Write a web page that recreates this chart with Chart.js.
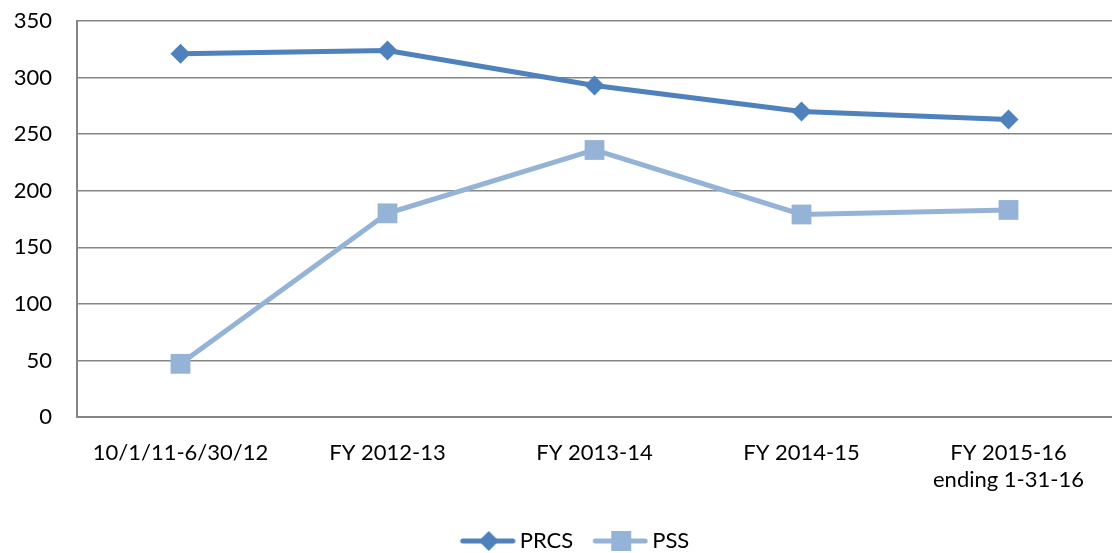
<!DOCTYPE html>
<html>
<head>
<meta charset="utf-8">
<script src="https://cdn.jsdelivr.net/npm/chart.js@4/dist/chart.umd.min.js"></script>
<style>
html,body{margin:0;padding:0;background:#fff;overflow:hidden;}
#wrap{width:1112px;height:553px;position:relative;}
#grafico{display:block;}
</style>
</head>
<body>
<div id="wrap"><canvas id="grafico"></canvas></div>
<script>
const categorias = [
  "10/1/11-6/30/12",
  "FY 2012-13",
  "FY 2013-14",
  "FY 2014-15",
  ["FY 2015-16", "ending 1-31-16"]
];
const prcs = [321, 324, 293, 270, 263];
const pss = [47, 180, 236, 179, 183];
const ticksY = [0, 50, 100, 150, 200, 250, 300, 350];

const azul = "#4F81BD";
const celeste = "#95B3D7";
const fuente = "Lato, 'Open Sans', sans-serif";

// icono de leyenda: linea con marcador (desplazado a la derecha para acercarlo al texto)
function icono(color, forma){
  const c = document.createElement("canvas");
  c.width = 70; c.height = 22;
  const g = c.getContext("2d");
  g.strokeStyle = color; g.lineWidth = 5; g.lineCap = "round";
  g.beginPath(); g.moveTo(17, 11); g.lineTo(67, 11); g.stroke();
  g.fillStyle = color;
  g.beginPath();
  if(forma === "diamante"){
    g.moveTo(43, 1); g.lineTo(53, 11); g.lineTo(43, 21); g.lineTo(33, 11);
  } else {
    g.rect(33, 1, 20, 20);
  }
  g.fill();
  return c;
}

const iconos = [icono(azul, "diamante"), icono(celeste, "cuadro")];

function sinMargen(s){
  s.paddingLeft = 0; s.paddingRight = 0;
  s.paddingTop = 0; s.paddingBottom = 0;
}

// mueve la leyenda un poco hacia abajo
const moverLeyenda = {
  id: "moverLeyenda",
  afterLayout(chart){
    const l = chart.legend;
    l.top += 9; l.bottom += 9;
    l.left += 13; l.right += 13;
  }
};

new Chart(document.getElementById("grafico"), {
  type: "line",
  data: {
    labels: categorias,
    datasets: [{
      label: "PRCS",
      data: prcs,
      borderColor: azul,
      backgroundColor: azul,
      borderWidth: 5,
      pointStyle: "rectRot",
      pointRadius: 10,
      pointHoverRadius: 10,
      pointBorderWidth: 0,
      tension: 0
    },{
      label: "PSS",
      data: pss,
      borderColor: celeste,
      backgroundColor: celeste,
      borderWidth: 5,
      pointStyle: "rect",
      pointRadius: 14,
      pointHoverRadius: 14,
      pointBorderWidth: 0,
      tension: 0
    }]
  },
  plugins: [moverLeyenda],
  options: {
    responsive: true,
    maintainAspectRatio: false,
    animation: false,
    layout: { autoPadding: false, padding: { top: 21, right: -4, left: 0, bottom: 0 } },
    plugins: {
      tooltip: { enabled: false },
      legend: {
        position: "bottom",
        labels: {
          usePointStyle: true,
          pointStyleWidth: 56,
          padding: 12,
          color: "#000",
          font: { family: fuente, size: 22 },
          generateLabels: (chart) => chart.data.datasets.map((d, i) => ({
            text: d.label,
            pointStyle: iconos[i],
            fillStyle: d.borderColor,
            strokeStyle: d.borderColor,
            lineWidth: 0,
            hidden: false,
            datasetIndex: i,
            fontColor: "#000"
          }))
        }
      }
    },
    scales: {
      x: {
        offset: true,
        grid: { display: false, drawTicks: false },
        border: { display: true, color: "#868686", width: 2 },
        ticks: {
          color: "#000",
          padding: 23,
          maxRotation: 0,
          autoSkip: false,
          font: { family: fuente, size: 22 }
        },
        afterFit: (s) => { s.height = 92; sinMargen(s); }
      },
      y: {
        min: ticksY[0],
        max: ticksY[ticksY.length - 1],
        grid: { color: "#868686", lineWidth: 1.5, drawTicks: false },
        border: { display: true, color: "#868686", width: 2 },
        ticks: {
          stepSize: ticksY[1] - ticksY[0],
          color: "#000",
          padding: 25,
          font: { family: fuente, size: 22 }
        },
        afterFit: (s) => { s.width = 77; sinMargen(s); }
      }
    }
  }
});
</script>
</body>
</html>
